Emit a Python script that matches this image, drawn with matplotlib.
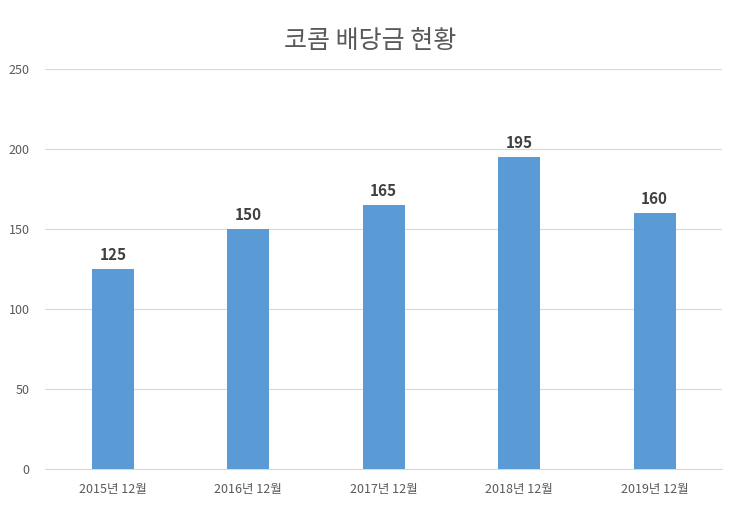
import matplotlib.pyplot as plt
import numpy as np

plt.rcParams['font.family'] = ['Noto Sans CJK KR', 'DejaVu Sans']

categories = ["2015년 12월", "2016년 12월", "2017년 12월", "2018년 12월", "2019년 12월"]
dividends = [125, 150, 165, 195, 160]
yticks = [0, 50, 100, 150, 200, 250]

fig = plt.figure(figsize=(7.4, 5.16), dpi=100)
ax = fig.add_axes([0.061, 0.091, 0.915, 0.775])

x = np.arange(len(categories))
bars = ax.bar(x, dividends, width=0.31, color="#5B9BD5", zorder=3)

for xi, v in zip(x, dividends):
    ax.text(xi, v + 4, str(v), ha="center", va="bottom",
            fontsize=11, fontweight="bold", color="#404040")

ax.set_xlim(-0.5, len(categories) - 0.5)
ax.set_ylim(0, 250)
ax.set_yticks(yticks)
ax.set_yticklabels([str(t) for t in yticks])
ax.set_xticks(x)
ax.set_xticklabels(categories)
ax.tick_params(axis="both", length=0, colors="#595959", labelsize=9)
ax.tick_params(axis="x", pad=10)
ax.tick_params(axis="y", pad=11)
ax.grid(axis="y", color="#D9D9D9", linewidth=0.8, zorder=0)
for side in ["top", "left", "right"]:
    ax.spines[side].set_visible(False)
ax.spines["bottom"].set_color("#D9D9D9")

fig.text(0.5, 0.92, "코콤 배당금 현황", ha="center", va="center",
         fontsize=18, color="#595959")

plt.savefig("out.png", dpi=100)
